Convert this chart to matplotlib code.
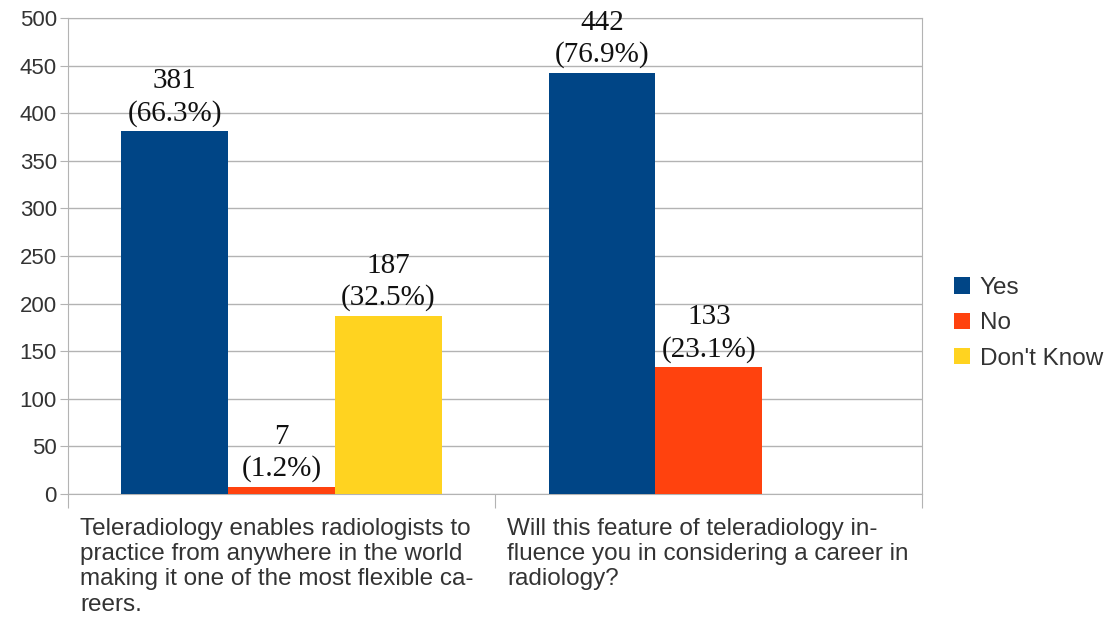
import matplotlib.pyplot as plt
import matplotlib.transforms as mtransforms
import numpy as np

questions = ['Teleradiology enables radiologists to\npractice from anywhere in the world\nmaking it one of the most flexible ca-\nreers.',
             'Will this feature of teleradiology in-\nfluence you in considering a career in\nradiology?']
series = ['Yes', 'No', "Don't Know"]
yes_vals = [381, 442]
no_vals = [7, 133]
dk_vals = [187, 0]
yes_pct = ['66.3%', '76.9%']
no_pct = ['1.2%', '23.1%']
dk_pct = ['32.5%', '']
colors = ['#004586', '#ff420e', '#ffd320']

plt.rcParams['font.family'] = ['Liberation Sans', 'DejaVu Sans']

fig = plt.figure(figsize=(11.06, 6.22), dpi=100)
ax = fig.add_axes([0.0615, 0.206, 0.7725, 0.765])

x = np.arange(len(questions))
width = 0.25
all_vals = [yes_vals, no_vals, dk_vals]
all_pct = [yes_pct, no_pct, dk_pct]

for i, (vals, pcts) in enumerate(zip(all_vals, all_pct)):
	offs = (i - 1) * width
	ax.bar(x + offs, vals, width, color=colors[i], label=series[i], zorder=3)
	for xi, v, p in zip(x, vals, pcts):
		if v == 0:
			continue
		ax.text(xi + offs, v + 5, '%d\n(%s)' % (v, p), ha='center', va='bottom',
				fontsize=21, family=['Liberation Serif', 'DejaVu Serif'],
				linespacing=1.25, color='#111111', zorder=4, clip_on=False)

ax.set_xlim(-0.5, 1.5)
ax.set_ylim(0, 500)
ax.set_yticks(np.arange(0, 501, 50))
ax.grid(axis='y', color='#b3b3b3', linewidth=1, zorder=0)
for s in ax.spines.values():
	s.set_color('#b3b3b3')
ax.tick_params(axis='y', labelsize=16, labelcolor='#333333', color='#b3b3b3', length=6, pad=2)

# group dividers as ticks below the axis
ax.set_xticks([-0.5, 0.5, 1.5])
ax.set_xticklabels([])
ax.tick_params(axis='x', color='#b3b3b3', length=10)

trans = mtransforms.blended_transform_factory(ax.transData, ax.transAxes)
ax.text(-0.472, -0.05, questions[0], transform=trans, ha='left', va='top',
		fontsize=17.5, color='#333333', linespacing=1.2)
ax.text(0.528, -0.05, questions[1], transform=trans, ha='left', va='top',
		fontsize=17.5, color='#333333', linespacing=1.2)

fig.legend(loc='center left', bbox_to_anchor=(0.843, 0.48), frameon=False,
		   fontsize=17.5, handlelength=0.65, handleheight=0.65, handletextpad=0.4,
		   labelspacing=0.55, labelcolor='#333333')

fig.savefig('out.png', dpi=100)
